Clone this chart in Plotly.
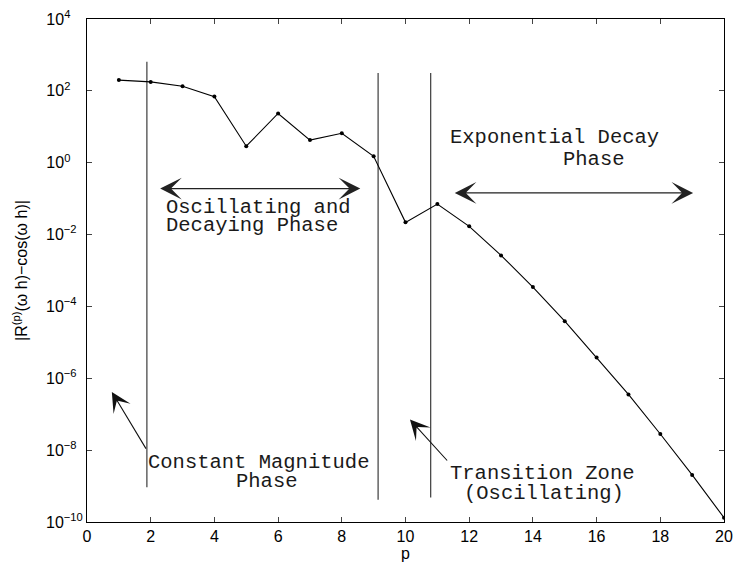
import numpy as np
import plotly.graph_objects as go

# Remainder magnitude |R^(p)(wh) - cos(wh)| versus order p
p = list(range(1, 21))
log_err = [2.30, 2.25, 2.13, 1.84, 0.46, 1.37, 0.63, 0.82, 0.18, -1.66,
           -1.15, -1.77, -2.58, -3.46, -4.41, -5.42, -6.45, -7.55, -8.69, -9.88]
err = [10 ** v for v in log_err]

# Phase boundaries (p position, log10 top, log10 bottom)
bound_p = [1.88, 9.14, 10.79]
bound_top = [2.81, 2.50, 2.50]
bound_bot = [-9.03, -9.38, -9.32]

# Y tick labels (decades); exponents padded so the "10" bases line up
y_exp = [4, 2, 0, -2, -4, -6, -8, -10]
NB = "\u00a0"


def dec_label(e):
    s = str(e).replace("-", "\u2212")
    pad = {1: 4, 2: 2, 3: 0}[len(s)]
    return "10<sup>" + s + NB * pad + "</sup>"


y_tickvals = [10.0 ** e for e in y_exp]
y_ticktext = [dec_label(e) for e in y_exp]
x_tickvals = list(range(0, 21, 2))

# Phase labels: (text, p position, log10 y)
phase_text = [
    ("Exponential Decay", 11.37, 0.71),
    ("Phase", 14.90, 0.10),
    ("Oscillating and", 2.46, -1.24),
    ("Decaying Phase", 2.46, -1.76),
    ("Constant Magnitude", 1.88, -8.35),
    ("Phase", 4.65, -8.88),
    ("Transition Zone", 11.38, -8.65),
    ("(Oscillating)", 11.80, -9.20),
]

# Double-headed span arrows: (p start, p end, log10 y)
spans = [(2.25, 8.58, -0.72), (11.50, 19.03, -0.84)]
# Pointer arrows: (tail p, tail log10 y, head p, head log10 y)
pointers = [(1.88, -8.00, 0.78, -6.38), (11.35, -8.33, 10.14, -7.15)]

fig = go.Figure()

for bp, bt, bb in zip(bound_p, bound_top, bound_bot):
    fig.add_trace(go.Scatter(
        x=[bp, bp], y=[10 ** bt, 10 ** bb], mode="lines",
        line=dict(color="#4a4a4a", width=1.3), hoverinfo="skip",
        showlegend=False))

fig.add_trace(go.Scatter(
    x=p, y=err, mode="lines+markers",
    line=dict(color="black", width=1.1),
    marker=dict(color="black", size=4),
    showlegend=False))

mono = dict(family="Liberation Mono, Courier New, monospace", size=20.5,
            color="#1a1a1a")

annotations = []
for txt, xv, yv in phase_text:
    annotations.append(dict(
        x=xv, y=yv, xref="x", yref="y", text=txt, showarrow=False,
        xanchor="left", yanchor="middle", font=mono, borderpad=0))

for x0, x1, yv in spans:
    annotations.append(dict(
        x=x1, y=yv, ax=x0, ay=yv, xref="x", yref="y", axref="x", ayref="y",
        text="", showarrow=True, arrowside="end+start", arrowhead=3,
        startarrowhead=3, arrowsize=3.0, startarrowsize=3.0, arrowwidth=1.2,
        arrowcolor="#222222", standoff=0, startstandoff=0))

for tx, ty, hx, hy in pointers:
    annotations.append(dict(
        x=hx, y=hy, ax=tx, ay=ty, xref="x", yref="y", axref="x", ayref="y",
        text="", showarrow=True, arrowhead=3, arrowsize=3.0, arrowwidth=1.1,
        arrowcolor="#111111", standoff=0))

sans = dict(family="Liberation Sans, Arial, Helvetica, sans-serif",
            size=16, color="black")

fig.update_layout(
    width=737, height=574,
    margin=dict(l=87, r=13, t=19, b=52),
    paper_bgcolor="white", plot_bgcolor="white",
    font=sans,
    annotations=annotations,
    xaxis=dict(
        range=[0, 20], tickvals=x_tickvals, ticks="inside", ticklen=5,
        showline=True, linecolor="black", linewidth=1, mirror="ticks",
        showgrid=False, zeroline=False, tickfont=sans, automargin=False,
        title=dict(text="p", font=sans, standoff=2)),
    yaxis=dict(
        type="log", range=[-10, 4], tickvals=y_tickvals, ticktext=y_ticktext,
        ticks="inside", ticklen=5, showline=True, linecolor="black",
        linewidth=1, mirror="ticks", showgrid=False, zeroline=False,
        tickfont=sans, automargin=False,
        title=dict(text="|R<sup>(p)</sup>(\u03c9 h)\u2212cos(\u03c9 h)|",
                   font=sans, standoff=14)),
)

fig.write_html("out.html")
